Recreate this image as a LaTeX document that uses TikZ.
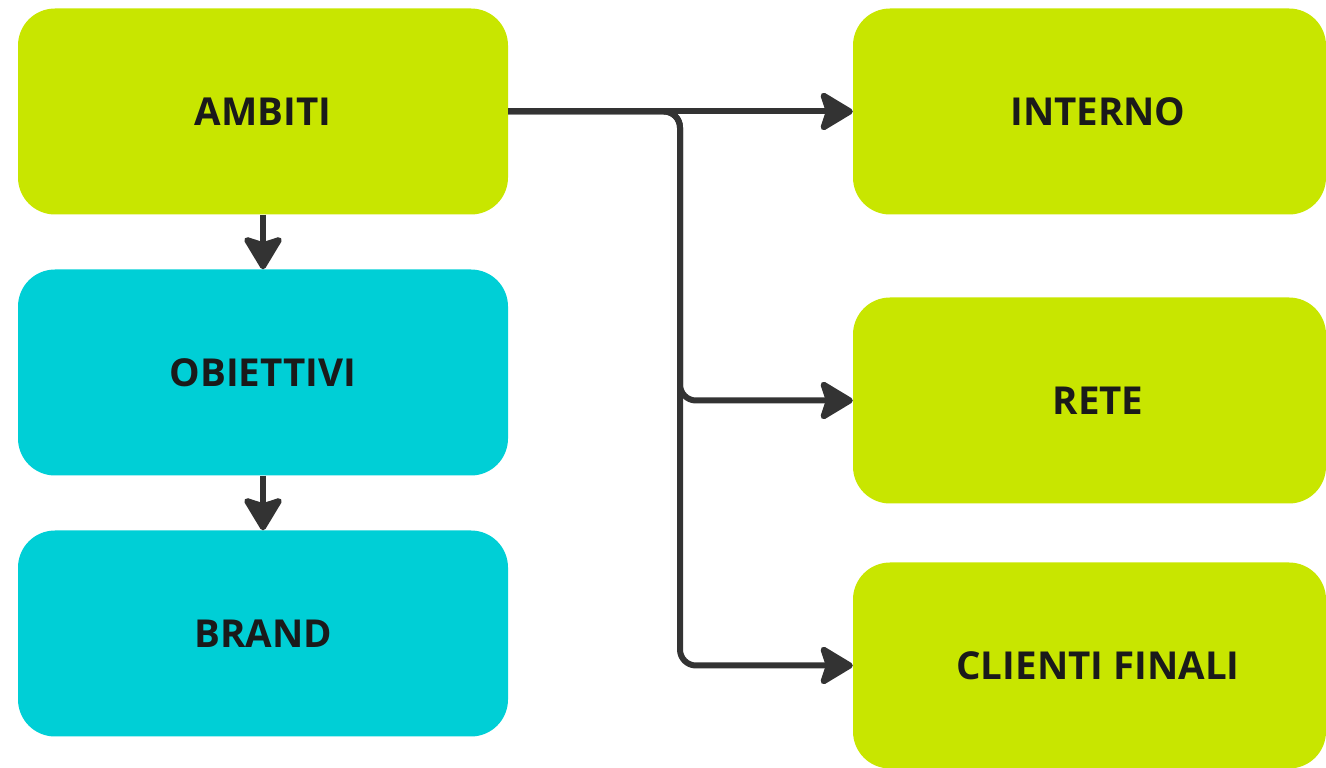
\documentclass[tikz,border=0pt]{standalone}
\usepackage{fontspec}
\setmainfont{Open Sans}
\usetikzlibrary{arrows.meta}
\definecolor{lime}{HTML}{C8E600}
\definecolor{teal}{HTML}{00CFD6}
\definecolor{ink}{HTML}{1A1A1A}
\definecolor{wire}{HTML}{333333}
\begin{document}
\begin{tikzpicture}[x=1pt, y=1pt,
    box/.style={rounded corners=37pt, minimum width=490pt, minimum height=206pt, inner sep=0pt,
        text=ink, font=\fontsize{38.5}{40}\selectfont\bfseries},
    rbox/.style={box, fill=lime, minimum width=473pt},
    tag/.style={xshift=8.5pt, text=ink, font=\fontsize{38.5}{40}\selectfont\bfseries},
    link/.style={wire, line width=6pt,
        -{Stealth[length=37pt, width=44pt, inset=7pt, round]}}]
    \useasboundingbox (0,0) rectangle (1326,768);
    % colonna sinistra
    \node[box, fill=lime] (ambiti) at (263,656.5) {AMBITI};
    \node[box, fill=teal] (obiettivi) at (263,395.5) {OBIETTIVI};
    \node[box, fill=teal] (brand) at (263,134.5) {BRAND};
    % colonna destra
    \node[rbox, label={[tag]center:INTERNO}] (interno) at (1089.5,656.5) {};
    \node[rbox, label={[tag]center:RETE}] (rete) at (1089.5,367.5) {};
    \node[rbox, label={[tag]center:CLIENTI FINALI}] (clienti) at (1089.5,102.5) {};
    \coordinate (split) at (680,656.5);
    \draw[link] (ambiti.south) -- (obiettivi.north);
    \draw[link] (obiettivi.south) -- (brand.north);
    \draw[link] (ambiti.east) -- (interno.west);
    \draw[link] (ambiti.east) [rounded corners=16pt] -- (split) |- (rete.west) [sharp corners];
    \draw[link] (ambiti.east) [rounded corners=16pt] -- (split) |- (clienti.west) [sharp corners];
\end{tikzpicture}
\end{document}
